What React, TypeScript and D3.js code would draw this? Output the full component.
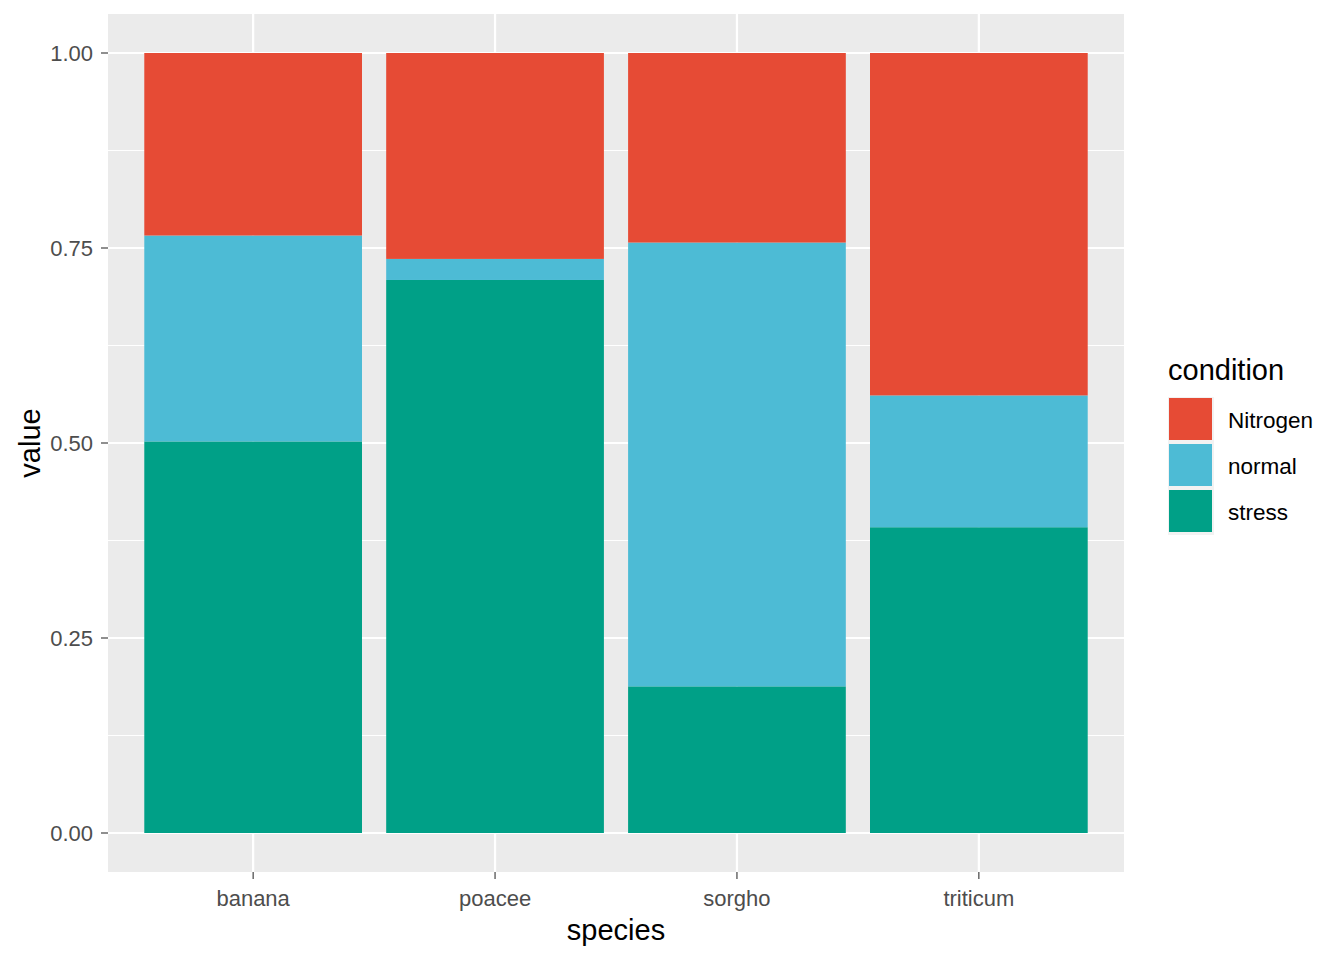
import React, { useEffect, useRef } from 'react';
import * as d3 from 'd3';

const species = ['banana', 'poacee', 'sorgho', 'triticum'];
const conditions = ['Nitrogen', 'normal', 'stress'];
const stressValues = [0.502, 0.709, 0.188, 0.392];
const normalValues = [0.264, 0.027, 0.569, 0.169];
const nitrogenValues = [0.234, 0.264, 0.243, 0.439];
const yTicks = [0, 0.25, 0.5, 0.75, 1];
const yMinor = [0.125, 0.375, 0.625, 0.875];
const colors = ['#E64B35', '#4DBBD5', '#00A087'];

const W = 1344;
const H = 960;
const panel = { left: 108, right: 1124, top: 14, bottom: 872 };
const font = 'Liberation Sans, Arial, sans-serif';

const App = () => {
    const ref = useRef<SVGSVGElement>(null);

    useEffect(() => {
        const svg = d3.select(ref.current);
        svg.selectAll('*').remove();

        const rows = species.map((s, i) => ({
            species: s,
            stress: stressValues[i],
            normal: normalValues[i],
            Nitrogen: nitrogenValues[i],
        }));

        const x = d3.scaleBand()
            .domain(species)
            .range([panel.left, panel.right])
            .paddingInner(0.1)
            .paddingOuter(0.15);
        const y = d3.scaleLinear()
            .domain([-0.05, 1.05])
            .range([panel.bottom, panel.top]);

        svg.append('rect')
            .attr('x', 0).attr('y', 0).attr('width', W).attr('height', H)
            .attr('fill', 'white');

        svg.append('rect')
            .attr('x', panel.left).attr('y', panel.top)
            .attr('width', panel.right - panel.left)
            .attr('height', panel.bottom - panel.top)
            .attr('fill', '#EBEBEB');

        // minor grid
        svg.selectAll('.minor')
            .data(yMinor)
            .enter()
            .append('line')
            .attr('x1', panel.left).attr('x2', panel.right)
            .attr('y1', d => y(d)).attr('y2', d => y(d))
            .attr('stroke', 'white').attr('stroke-width', 1.1);

        svg.selectAll('.major')
            .data(yTicks)
            .enter()
            .append('line')
            .attr('x1', panel.left).attr('x2', panel.right)
            .attr('y1', d => y(d)).attr('y2', d => y(d))
            .attr('stroke', 'white').attr('stroke-width', 2.2);

        svg.selectAll('.vmajor')
            .data(species)
            .enter()
            .append('line')
            .attr('x1', d => x(d)! + x.bandwidth() / 2)
            .attr('x2', d => x(d)! + x.bandwidth() / 2)
            .attr('y1', panel.top).attr('y2', panel.bottom)
            .attr('stroke', 'white').attr('stroke-width', 2.2);

        // stacked bars: stress at the bottom, then normal, then Nitrogen
        const stack = d3.stack<any>().keys(['stress', 'normal', 'Nitrogen']);
        const series = stack(rows);
        const colorOf: Record<string, string> = {
            Nitrogen: colors[0], normal: colors[1], stress: colors[2],
        };

        series.forEach(s => {
            svg.append('g')
                .selectAll('rect')
                .data(s)
                .enter()
                .append('rect')
                .attr('x', d => x(d.data.species)!)
                .attr('width', x.bandwidth())
                .attr('y', d => y(d[1]))
                .attr('height', d => y(d[0]) - y(d[1]))
                .attr('fill', colorOf[s.key]);
        });

        // y axis
        yTicks.forEach(t => {
            svg.append('line')
                .attr('x1', panel.left - 7).attr('x2', panel.left)
                .attr('y1', y(t)).attr('y2', y(t))
                .attr('stroke', '#333333').attr('stroke-width', 1.1);
            svg.append('text')
                .attr('x', panel.left - 15)
                .attr('y', y(t))
                .attr('dy', '0.36em')
                .attr('text-anchor', 'end')
                .attr('font-family', font)
                .attr('font-size', 22)
                .attr('fill', '#4D4D4D')
                .text(d3.format('.2f')(t));
        });

        // x axis
        species.forEach(s => {
            const cx = x(s)! + x.bandwidth() / 2;
            svg.append('line')
                .attr('x1', cx).attr('x2', cx)
                .attr('y1', panel.bottom).attr('y2', panel.bottom + 7)
                .attr('stroke', '#333333').attr('stroke-width', 1.1);
            svg.append('text')
                .attr('x', cx)
                .attr('y', 906)
                .attr('text-anchor', 'middle')
                .attr('font-family', font)
                .attr('font-size', 22)
                .attr('fill', '#4D4D4D')
                .text(s);
        });

        svg.append('text')
            .attr('x', (panel.left + panel.right) / 2)
            .attr('y', 940)
            .attr('text-anchor', 'middle')
            .attr('font-family', font)
            .attr('font-size', 29)
            .attr('fill', 'black')
            .text('species');

        svg.append('text')
            .attr('transform', `translate(40,${(panel.top + panel.bottom) / 2}) rotate(-90)`)
            .attr('text-anchor', 'middle')
            .attr('font-family', font)
            .attr('font-size', 29)
            .attr('fill', 'black')
            .text('value');

        // legend
        const lg = svg.append('g');
        lg.append('text')
            .attr('x', 1168).attr('y', 380)
            .attr('font-family', font)
            .attr('font-size', 29)
            .attr('fill', 'black')
            .text('condition');

        conditions.forEach((c, i) => {
            const top = 397 + i * 46;
            lg.append('rect')
                .attr('x', 1168).attr('y', top)
                .attr('width', 46).attr('height', 46)
                .attr('fill', '#F2F2F2');
            lg.append('rect')
                .attr('x', 1169).attr('y', top + 1)
                .attr('width', 43).attr('height', 42)
                .attr('fill', colors[i]);
            lg.append('text')
                .attr('x', 1228).attr('y', top + 23)
                .attr('dy', '0.36em')
                .attr('font-family', font)
                .attr('font-size', 22.5)
                .attr('fill', 'black')
                .text(c);
        });
    }, []);

    return (
        <div>
            <svg ref={ref} width={W} height={H} style={{ display: 'block', margin: -8 }}></svg>
        </div>
    );
};

export default App;
